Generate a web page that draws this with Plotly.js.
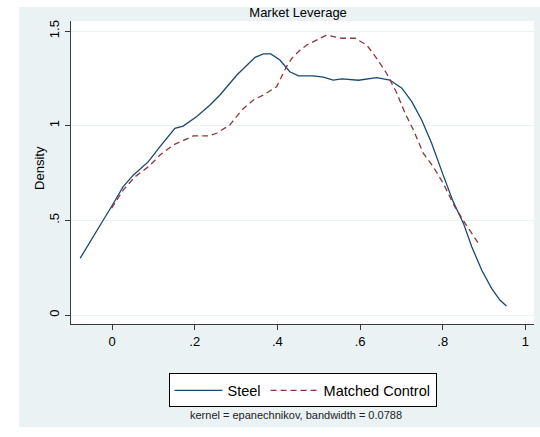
<!DOCTYPE html>
<html>
<head>
<meta charset="utf-8">
<script src="https://cdn.plot.ly/plotly-3.0.1.min.js"></script>
<style>
html, body { margin: 0; padding: 0; background: #ffffff; }
#chart { width: 540px; height: 437px; }
</style>
</head>
<body>
<div id="chart"></div>
<script>
// ---- Data ----
var steelX = [-0.077, -0.05, -0.021, 0.0, 0.027, 0.052, 0.088, 0.116, 0.152, 0.172, 0.205, 0.237, 0.261, 0.302, 0.346, 0.366, 0.384, 0.406, 0.43, 0.451, 0.487, 0.511, 0.535, 0.556, 0.596, 0.64, 0.672, 0.701, 0.725, 0.749, 0.773, 0.801, 0.825, 0.85, 0.87, 0.894, 0.918, 0.938, 0.954];
var steelY = [0.30, 0.40, 0.502, 0.577, 0.678, 0.74, 0.81, 0.889, 0.986, 0.998, 1.048, 1.109, 1.162, 1.268, 1.361, 1.379, 1.379, 1.347, 1.285, 1.263, 1.263, 1.256, 1.241, 1.247, 1.24, 1.254, 1.241, 1.198, 1.127, 1.03, 0.907, 0.739, 0.599, 0.484, 0.361, 0.238, 0.141, 0.079, 0.048];

var controlX = [-0.001, 0.027, 0.056, 0.088, 0.116, 0.148, 0.197, 0.233, 0.253, 0.285, 0.314, 0.342, 0.366, 0.398, 0.422, 0.435, 0.455, 0.471, 0.519, 0.556, 0.588, 0.616, 0.64, 0.664, 0.689, 0.709, 0.729, 0.753, 0.777, 0.801, 0.829, 0.854, 0.886];
var controlY = [0.564, 0.66, 0.731, 0.783, 0.845, 0.898, 0.946, 0.946, 0.96, 1.004, 1.083, 1.136, 1.162, 1.206, 1.312, 1.356, 1.40, 1.426, 1.479, 1.462, 1.462, 1.426, 1.356, 1.277, 1.171, 1.065, 0.977, 0.854, 0.783, 0.696, 0.572, 0.484, 0.379];

var seriesNames = ["Steel", "Matched Control"];
var xTickVals = [0, 0.2, 0.4, 0.6, 0.8, 1];
var xTickText = ["0", ".2", ".4", ".6", ".8", "1"];
var yTickVals = [0, 0.5, 1, 1.5];
var yTickText = ["0", ".5", "1", "1.5"];
var chartTitle = "Market Leverage";
var yTitle = "Density";
var noteText = "kernel = epanechnikov, bandwidth = 0.0788";

// ---- Styles ----
var FONT = "'Liberation Sans', Arial, Helvetica, sans-serif";
var BG = "#eaf2f3";
var AXIS = "#3a3a3a";

var traces = [
  {
    x: steelX, y: steelY, type: "scatter", mode: "lines", name: seriesNames[0],
    line: { color: "#1a476f", width: 1.3 }
  },
  {
    x: controlX, y: controlY, type: "scatter", mode: "lines", name: seriesNames[1],
    line: { color: "#90353b", width: 1.3, dash: "6px,4px" }
  }
];

var layout = {
  width: 540, height: 437,
  margin: { l: 71, r: 6, t: 21, b: 113, pad: 0 },
  paper_bgcolor: BG,
  plot_bgcolor: "#ffffff",
  font: { family: FONT, size: 13, color: "#000000" },
  showlegend: true,
  title: {
    text: chartTitle,
    font: { family: FONT, size: 13, color: "#000000" },
    xref: "container", yref: "container",
    x: 0.552, y: 0.9714, xanchor: "center", yanchor: "middle"
  },
  xaxis: {
    range: [-0.0992, 1.0206],
    tickmode: "array", tickvals: xTickVals, ticktext: xTickText,
    ticks: "outside", ticklen: 5, tickwidth: 1, tickcolor: AXIS,
    showline: true, linecolor: AXIS, linewidth: 1,
    showgrid: false, zeroline: false,
    tickfont: { family: FONT, size: 13, color: "#000000" }
  },
  yaxis: {
    range: [-0.0475, 1.553],
    tickmode: "array", tickvals: yTickVals, ticktext: yTickText,
    ticks: "outside", ticklen: 5, tickwidth: 1, tickcolor: AXIS,
    tickangle: -90, ticklabelstandoff: 1,
    showline: true, linecolor: AXIS, linewidth: 1,
    showgrid: true, gridcolor: BG, gridwidth: 1, zeroline: false,
    tickfont: { family: FONT, size: 13, color: "#000000" }
  },
  legend: {
    orientation: "h",
    x: 0.5, xanchor: "center",
    y: -0.163, yanchor: "top",
    bgcolor: "#ffffff", bordercolor: "#000000", borderwidth: 1,
    font: { family: FONT, size: 14.5, color: "#000000" },
    itemwidth: 48
  },
  shapes: [
    // white margins outside the grey graph region
    { type: "rect", xref: "paper", yref: "paper", x0: -0.2, x1: -0.1123, y0: -0.5, y1: 1.2,
      fillcolor: "#ffffff", line: { width: 0 }, layer: "above" },
    { type: "rect", xref: "paper", yref: "paper", x0: -0.2, x1: 1.2, y0: 1.0462, y1: 1.2,
      fillcolor: "#ffffff", line: { width: 0 }, layer: "above" },
    { type: "rect", xref: "paper", yref: "paper", x0: -0.2, x1: 1.2, y0: -0.5, y1: -0.340,
      fillcolor: "#ffffff", line: { width: 0 }, layer: "above" }
  ],
  annotations: [
    { text: yTitle, xref: "paper", yref: "paper", x: -0.067, y: 0.515,
      textangle: -90, showarrow: false, xanchor: "center", yanchor: "middle",
      font: { family: FONT, size: 13, color: "#000000" } },
    { text: noteText, xref: "paper", yref: "paper", x: 0.4849, y: -0.3003,
      showarrow: false, xanchor: "center", yanchor: "middle",
      font: { family: FONT, size: 11, color: "#222222" } }
  ]
};

Plotly.newPlot("chart", traces, layout, { displayModeBar: false, staticPlot: true });
</script>
</body>
</html>
